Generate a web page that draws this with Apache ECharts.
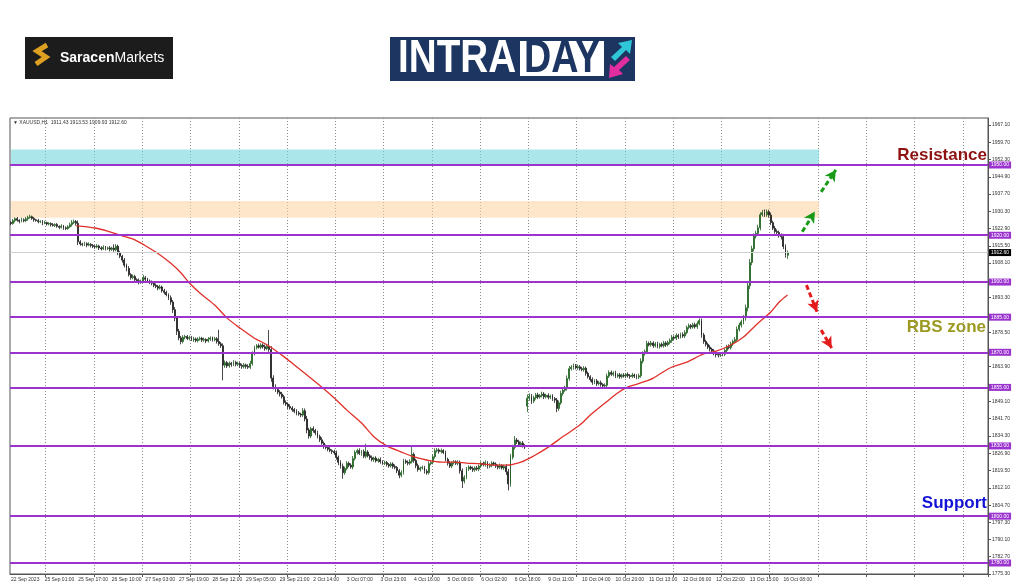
<!DOCTYPE html>
<html><head><meta charset="utf-8">
<script src="https://cdn.jsdelivr.net/npm/echarts@6/dist/echarts.min.js"></script>
<style>html,body{margin:0;padding:0;background:#fff;}#c{width:1024px;height:587px;}</style>
</head><body><div id="c"></div>
<script>
// ---------- DATA ----------
const tickLabels = ['22 Sep 2023','25 Sep 01:00','25 Sep 17:00','26 Sep 10:00','27 Sep 03:00','27 Sep 19:00','28 Sep 12:00','29 Sep 05:00','29 Sep 21:00','2 Oct 14:00','3 Oct 07:00','3 Oct 23:00','4 Oct 16:00','5 Oct 09:00','6 Oct 02:00','6 Oct 18:00','9 Oct 11:00','10 Oct 04:00','10 Oct 20:00','11 Oct 13:00','12 Oct 06:00','12 Oct 22:00','13 Oct 15:00','16 Oct 08:00'];
const yTickValues = [1967.10,1959.70,1952.30,1944.90,1937.70,1930.30,1922.90,1915.50,1908.10,1893.30,1878.50,1863.90,1849.10,1841.70,1834.30,1826.90,1819.50,1812.10,1804.70,1797.30,1790.10,1782.70,1775.30];
const levels = [1950,1920,1900,1885,1870,1855,1830,1800,1780];
const lastPrice = 1912.60;
const cyanZone = [1950, 1956.6];
const orangeZone = [1927.5, 1934.6];
const firstOpen = 1925.4;
const gapOpens = {246: 1847.0};
const slotCount = 466;
const categories = Array.from({length: slotCount}, (_, i) => String(i));

const closes = [
1925.0,1926.2,1927.1,1926.4,1926.0,1926.6,1926.2,1927.0,1927.6,1927.9,
1927.2,1926.6,1926.3,1925.8,1925.9,1925.2,1925.4,1924.8,1925.0,1924.5,
1924.2,1924.6,1923.8,1923.4,1923.9,1923.2,1922.9,1923.6,1924.5,1925.4,
1925.9,1925.1,1917.2,1916.3,1916.0,1916.4,1915.8,1916.1,1915.6,1915.2,
1915.0,1915.4,1914.6,1914.2,1914.8,1914.3,1914.6,1914.0,1914.5,1913.8,
1915.3,1912.5,1911.0,1909.4,1907.2,1905.8,1903.2,1901.9,1902.4,1901.0,
1900.6,1899.9,1900.3,1901.8,1901.2,1900.4,1899.8,1899.5,1898.6,1898.1,
1897.4,1897.9,1896.3,1895.6,1894.6,1893.3,1891.5,1888.2,1884.6,1879.0,
1876.2,1874.6,1876.4,1876.8,1875.9,1876.3,1875.4,1875.7,1875.0,1875.6,
1876.0,1875.2,1875.5,1874.8,1875.6,1876.1,1875.3,1875.8,1874.6,1873.6,
1872.8,1864.5,1865.6,1864.2,1865.3,1864.8,1865.7,1864.9,1865.2,1864.4,
1863.9,1864.6,1864.0,1863.6,1865.2,1869.4,1872.0,1872.8,1872.2,1873.1,
1872.4,1871.6,1872.5,1871.2,1859.0,1855.4,1854.1,1853.0,1852.2,1851.0,
1848.6,1847.9,1846.8,1846.2,1845.5,1844.8,1844.1,1843.6,1843.2,1845.0,
1841.5,1836.8,1834.2,1837.4,1836.6,1835.6,1834.0,1832.6,1831.2,1829.8,
1829.3,1828.6,1828.0,1827.6,1827.0,1825.2,1823.0,1821.3,1818.6,1820.4,
1822.6,1821.8,1821.0,1824.6,1827.2,1828.0,1826.8,1827.6,1825.6,1827.4,
1825.8,1825.0,1824.2,1824.8,1823.6,1824.2,1823.3,1822.6,1822.9,1822.1,
1821.5,1822.3,1821.2,1820.8,1819.4,1817.5,1818.6,1823.6,1823.0,1822.6,
1823.4,1826.4,1823.8,1821.6,1819.9,1820.6,1820.8,1819.2,1818.6,1822.4,
1823.0,1825.4,1827.9,1828.3,1827.6,1828.0,1827.2,1824.3,1822.6,1821.4,
1822.8,1823.2,1822.6,1823.0,1819.4,1815.0,1816.6,1820.2,1821.0,1820.4,
1819.8,1820.6,1820.1,1821.4,1822.6,1822.0,1822.9,1821.3,1821.8,1822.7,
1822.2,1821.4,1820.9,1821.6,1820.6,1821.2,1819.0,1813.8,1825.2,1829.4,
1832.5,1831.8,1830.6,1831.2,1830.0,1829.6,1850.4,1851.2,1849.2,1850.6,
1851.8,1850.9,1851.5,1852.2,1851.0,1851.6,1850.8,1851.3,1850.2,1849.6,
1846.0,1848.4,1852.4,1853.8,1854.6,1858.8,1863.0,1863.6,1864.2,1863.4,
1863.8,1863.0,1862.6,1863.2,1861.0,1859.6,1858.4,1857.2,1857.8,1856.6,
1857.0,1856.2,1855.6,1855.9,1859.8,1861.4,1860.6,1861.2,1859.8,1860.4,
1859.6,1860.2,1859.9,1860.6,1860.0,1859.7,1860.3,1859.8,1859.4,1860.0,
1866.2,1869.4,1870.3,1873.8,1873.2,1874.0,1872.8,1873.6,1872.5,1873.4,
1872.8,1874.0,1873.2,1874.2,1875.0,1876.4,1876.0,1877.2,1876.6,1877.6,
1877.0,1878.4,1880.6,1881.4,1880.8,1881.8,1880.9,1882.2,1883.6,1877.4,
1874.6,1873.4,1872.2,1871.4,1870.6,1869.6,1869.0,1868.8,1869.4,1869.2,
1870.8,1872.4,1872.0,1873.6,1874.6,1875.4,1879.8,1881.6,1883.0,1884.8,
1889.0,1898.4,1908.4,1914.2,1919.6,1920.8,1923.2,1928.8,1929.6,1928.8,
1930.0,1928.6,1925.4,1923.0,1921.6,1921.2,1919.8,1919.4,1915.2,1911.43,1912.60];

const wickUp = [
0.6,0.8,0.5,0.7,0.4,0.9,0.6,0.8,0.7,0.9,
0.5,0.6,0.4,0.7,0.5,0.6,0.8,0.4,0.6,0.5,
0.7,0.5,0.6,0.4,0.8,0.5,0.6,0.7,0.9,1.1,
0.8,0.6,1.2,0.7,0.5,0.8,0.6,0.9,0.5,0.7,
0.6,0.8,0.5,0.7,0.9,0.6,0.5,0.8,0.6,1.6,
0.9,0.7,0.8,0.6,0.9,0.7,1.0,0.6,0.8,0.7,
0.6,0.9,0.7,1.2,0.8,0.6,0.7,0.9,0.5,0.8,
0.7,0.9,0.6,0.8,0.7,0.6,1.0,0.8,1.1,0.9,
1.0,0.8,0.9,0.7,0.6,0.8,0.7,0.9,0.6,0.8,
0.7,0.6,0.8,0.5,0.9,0.7,0.6,0.8,0.7,5.0,
0.8,1.0,0.9,0.7,0.8,0.6,0.9,0.7,0.8,0.6,
0.7,0.8,0.6,0.9,1.2,1.0,0.8,0.7,0.9,0.8,
0.7,0.9,0.8,7.0,1.4,1.2,0.9,1.0,0.8,0.9,
0.8,0.9,0.7,1.0,0.8,0.7,0.9,0.8,0.6,1.2,
1.0,1.3,0.9,0.8,1.0,0.7,0.9,0.8,1.1,0.7,
0.8,0.7,0.9,0.6,0.8,1.0,0.7,0.9,1.2,0.8,
0.9,0.7,0.8,1.1,0.9,0.8,1.0,0.7,0.9,3.6,
0.8,0.7,0.9,0.6,0.8,0.7,0.9,0.6,0.8,0.7,
0.6,0.8,0.7,0.9,0.6,0.8,1.0,0.9,0.7,0.8,
0.9,4.0,0.8,0.7,0.9,0.6,0.8,0.7,0.9,1.0,
0.8,0.9,1.1,0.8,0.7,0.9,0.6,0.8,0.7,0.9,
0.6,0.8,0.7,0.9,0.8,1.0,0.9,0.8,0.7,0.6,
0.8,0.7,0.9,0.6,0.8,0.7,0.9,0.6,0.8,0.7,
0.6,0.8,0.7,0.9,0.6,0.8,1.0,1.2,1.4,1.1,
1.7,0.9,0.8,0.7,0.9,0.8,1.6,1.2,1.0,0.9,
0.8,0.9,0.7,1.0,0.8,0.7,0.9,0.6,0.8,0.7,
0.9,1.0,1.2,0.9,1.1,1.3,1.2,0.9,1.0,0.8,
0.9,0.7,0.8,0.9,0.7,0.8,0.6,0.9,0.7,0.8,
0.7,0.9,0.6,0.8,1.1,0.9,0.8,0.7,0.9,0.6,
0.8,0.7,0.9,0.6,0.8,0.7,0.9,0.6,0.8,0.9,
1.2,1.0,0.9,1.1,0.8,0.9,0.7,0.8,0.9,0.7,
0.8,0.9,0.7,0.8,0.9,1.0,0.8,0.9,0.7,0.8,
0.9,1.0,0.8,0.9,0.7,0.8,0.9,1.0,0.9,0.8,
0.9,0.8,0.7,0.9,0.6,0.8,0.7,0.9,0.6,0.8,
0.9,0.8,1.0,0.9,0.8,1.1,1.2,1.0,0.9,1.1,
1.4,1.6,1.5,1.3,1.2,1.1,1.3,1.0,1.2,1.4,
1.0,0.9,1.1,0.8,1.0,0.9,0.8,1.0,1.2,0.9,0.93];

const wickDown = [
0.7,0.5,0.8,0.6,0.9,0.5,0.7,0.6,0.8,0.5,
0.6,0.8,0.5,0.7,0.6,0.9,0.5,0.7,0.6,0.8,
0.5,0.7,0.6,0.8,0.5,0.9,0.7,0.6,0.5,0.8,
0.6,1.0,1.4,0.8,0.7,0.6,0.9,0.5,0.8,0.7,
0.8,0.6,0.9,0.7,0.5,0.8,0.6,0.9,0.7,0.8,
0.7,1.0,0.8,1.1,0.9,1.2,0.8,0.9,0.7,1.0,
0.8,0.9,0.7,0.6,0.9,0.8,0.7,0.9,0.8,0.7,
0.9,0.6,0.8,0.9,0.7,1.0,1.2,1.4,1.3,1.6,
1.1,1.2,0.8,0.9,0.7,0.8,0.6,0.9,0.7,0.8,
0.6,0.8,0.7,0.9,0.6,0.8,0.7,0.6,0.9,0.8,
0.9,6.5,1.1,0.9,0.8,1.0,0.7,0.9,0.8,1.0,
0.9,0.8,1.0,0.7,0.8,0.9,0.7,0.8,0.6,0.9,
0.8,0.9,0.7,1.0,1.6,1.2,1.0,0.9,1.1,0.8,
0.9,0.8,1.0,0.7,0.9,0.8,1.0,0.7,0.9,0.8,
1.0,1.4,1.1,0.8,0.9,1.0,0.8,0.9,0.7,1.0,
0.8,0.9,0.7,1.0,0.8,1.1,1.2,1.0,2.6,0.9,
0.8,0.9,0.7,1.0,0.8,0.9,0.7,1.0,0.8,0.9,
0.7,0.9,0.8,1.0,0.7,0.8,0.9,0.7,0.8,0.9,
0.8,0.7,0.9,0.8,1.0,1.3,0.9,0.8,0.7,0.9,
0.8,0.9,1.0,1.1,0.9,0.8,0.7,1.0,0.9,0.8,
0.7,0.9,0.8,0.7,0.9,0.8,0.7,0.9,1.0,0.8,
0.9,0.7,0.8,0.9,1.2,3.0,1.0,0.8,0.9,0.7,
0.9,0.8,0.7,0.9,0.8,0.7,0.9,1.0,0.8,0.9,
0.7,0.8,0.9,0.8,0.7,0.9,1.4,2.8,1.2,1.0,
0.9,1.0,0.8,0.9,0.7,0.9,2.5,1.1,1.3,0.9,
0.8,0.9,0.7,0.8,1.0,0.7,0.9,0.8,1.0,1.2,
1.6,1.0,0.8,0.9,0.7,1.0,0.9,0.8,1.0,0.7,
0.9,0.8,0.7,0.9,1.0,0.8,0.9,1.1,0.8,1.0,
0.8,0.9,1.1,1.2,0.9,0.8,0.7,0.9,0.8,0.7,
0.9,0.8,0.7,0.9,0.8,1.0,0.7,0.8,0.9,0.8,
0.9,1.0,0.8,0.9,0.7,0.8,0.9,0.7,0.8,0.9,
0.7,0.8,0.9,0.7,0.8,0.9,0.7,0.8,0.9,0.7,
0.8,0.9,0.7,0.8,0.9,0.7,0.8,0.9,0.7,1.2,
1.0,0.9,0.8,1.0,1.1,0.9,1.2,1.0,0.8,0.9,
0.8,0.9,0.7,0.8,0.9,0.7,0.8,0.9,1.0,1.1,
1.3,1.5,1.4,1.2,1.1,1.0,0.9,1.1,0.8,1.0,
0.9,1.1,1.0,0.8,0.9,1.0,0.8,1.2,1.1,1.0,1.5];

// moving average read at points: [bar index, value]
const maPoints = [[31,1924.0],[40,1923.1],[46,1921.8],[52,1920.0],[59,1918.0],[65,1915.0],[71,1911.6],[76,1908.1],[81,1903.9],[85,1899.6],[90,1895.3],[97,1890.2],[103,1884.6],[109,1880.4],[116,1876.0],[122,1873.2],[129,1868.8],[135,1864.6],[141,1860.3],[148,1855.2],[154,1850.5],[160,1845.3],[167,1839.8],[173,1833.8],[179,1830.0],[186,1827.4],[192,1825.3],[198,1824.0],[205,1823.1],[211,1823.1],[217,1822.7],[224,1822.3],[230,1821.8],[236,1821.8],[243,1823.1],[249,1825.7],[256,1829.5],[263,1834.0],[271,1838.9],[276,1843.2],[283,1848.3],[289,1852.6],[294,1855.2],[300,1856.9],[306,1859.0],[314,1863.3],[322,1865.8],[330,1869.3],[336,1870.5],[343,1873.1],[349,1876.5],[355,1881.7],[362,1887.2],[366,1891.5],[370,1894.5]];

const arrowsUp = [[[377,1921.5],[383,1930.1]], [[386,1938.5],[393,1947.9]]];
const arrowsDown = [[[379,1898.7],[384,1887.3]], [[386,1879.5],[391,1871.8]]];

// ---------- BUILD ----------
const candles = closes.map((c, i) => {
  const o = i === 0 ? firstOpen : (gapOpens[i] !== undefined ? gapOpens[i] : closes[i - 1]);
  const hi = Math.max(o, c) + wickUp[i];
  const lo = Math.min(o, c) - wickDown[i];
  return [o, c, +lo.toFixed(2), +hi.toFixed(2)];
});

const PURPLE = '#9b33cf';
const gridLineIdx = i => i >= 17 && (i - 17) % 23 === 0;
const F = '"Liberation Sans", Arial, sans-serif';
const LOGO_FONT = 'bold 46px "Liberation Sans", Arial, sans-serif';

const chart = echarts.init(document.getElementById('c'), null, {renderer: 'canvas'});
chart.setOption({
  animation: false,
  backgroundColor: '#ffffff',
  grid: {left: 10, right: 36, top: 118, bottom: 13, show: true, borderColor: '#555', borderWidth: 1, backgroundColor: 'transparent'},
  xAxis: {
    type: 'category', data: categories, boundaryGap: true,
    axisLine: {show: true, lineStyle: {color: '#555', width: 1}},
    axisTick: {show: true, interval: gridLineIdx, length: 3, lineStyle: {color: '#555'}},
    axisLabel: {
      interval: i => i % 16 === 0 && i / 16 < tickLabels.length,
      formatter: (v, i) => tickLabels[Math.round(i / 16)] || '',
      fontSize: 5, color: '#333', align: 'left', margin: 3, fontFamily: F
    },
    splitLine: {show: true, interval: gridLineIdx, lineStyle: {color: '#8a8a8a', type: [1, 2], width: 1}}
  },
  yAxis: {
    type: 'value', position: 'right', min: 1775.3, max: 1970.08, scale: true,
    axisLine: {show: true, lineStyle: {color: '#555', width: 1}},
    axisTick: {show: true, customValues: yTickValues, length: 3, lineStyle: {color: '#555'}},
    axisLabel: {customValues: yTickValues, formatter: v => v.toFixed(2), fontSize: 5, color: '#333', margin: 4, fontFamily: F},
    splitLine: {show: false}
  },
  series: [
    {
      type: 'line', data: [], z: 1, silent: true,
      markArea: {
        silent: true,
        data: [
          [{xAxis: 0, yAxis: cyanZone[0], itemStyle: {color: 'rgba(120,214,222,0.62)'}}, {xAxis: 385, yAxis: cyanZone[1]}],
          [{xAxis: 0, yAxis: orangeZone[0], itemStyle: {color: 'rgba(252,214,166,0.6)'}}, {xAxis: 385, yAxis: orangeZone[1]}]
        ]
      }
    },
    {
      type: 'candlestick', data: candles, z: 3, barWidth: 1.4, silent: true,
      itemStyle: {color: '#22a022', color0: '#1c1c1c', borderColor: '#1f5a1f', borderColor0: '#1c1c1c', borderWidth: 0.8},
      markLine: {
        silent: true, symbol: 'none', animation: false,
        data: levels.map(v => ({
          yAxis: v,
          lineStyle: {color: PURPLE, width: 2, type: 'solid'},
          label: {show: true, position: 'end', formatter: v.toFixed(2), backgroundColor: PURPLE, color: '#fff', fontSize: 5, padding: [1, 2], distance: 1, fontFamily: F}
        })).concat([{
          yAxis: lastPrice,
          lineStyle: {color: '#cfcfcf', width: 1, type: 'solid'},
          label: {show: true, position: 'end', formatter: lastPrice.toFixed(2), backgroundColor: '#000', color: '#fff', fontSize: 5, padding: [1, 2], distance: 1, fontFamily: F}
        }])
      }
    },
    {
      type: 'line', data: maPoints, z: 4, smooth: 0.3, symbol: 'none', silent: true,
      lineStyle: {color: '#e0302a', width: 1.3}
    },
    {
      type: 'line', data: [], z: 5, silent: true,
      markLine: {
        silent: true, symbol: ['none', 'arrow'], symbolSize: [9, 11],
        lineStyle: {color: '#189a18', width: 3, type: [5, 3]},
        label: {show: false},
        data: arrowsUp.map(a => [{coord: a[0]}, {coord: a[1]}])
      }
    },
    {
      type: 'line', data: [], z: 5, silent: true,
      markLine: {
        silent: true, symbol: ['none', 'arrow'], symbolSize: [9, 11],
        lineStyle: {color: '#e51a1a', width: 3, type: [5, 3]},
        label: {show: false},
        data: arrowsDown.map(a => [{coord: a[0]}, {coord: a[1]}])
      }
    }
  ],
  graphic: [
    // header inside chart
    {type: 'text', x: 13, y: 123, silent: true, style: {text: '\u25BC XAUUSD,H1  1911.43 1913.53 1909.93 1912.60', font: '5px ' + F, fill: '#333', textVerticalAlign: 'middle'}},
    // annotations
    {type: 'text', x: 987, y: 155, silent: true, style: {text: 'Resistance', font: 'bold 17px "Liberation Sans", Arial, sans-serif', fill: '#8e1212', textAlign: 'right', textVerticalAlign: 'middle'}},
    {type: 'text', x: 986, y: 327, silent: true, style: {text: 'RBS zone', font: 'bold 17px "Liberation Sans", Arial, sans-serif', fill: '#9c9a22', textAlign: 'right', textVerticalAlign: 'middle'}},
    {type: 'text', x: 987, y: 503, silent: true, style: {text: 'Support', font: 'bold 17px "Liberation Sans", Arial, sans-serif', fill: '#1414d6', textAlign: 'right', textVerticalAlign: 'middle'}},
    // Saracen Markets logo
    {type: 'rect', silent: true, shape: {x: 25, y: 37, width: 148, height: 42}, style: {fill: '#1c1c1c'}},
    {type: 'polyline', silent: true, shape: {points: [[47, 45], [37, 51], [46, 57], [36, 64]]}, style: {stroke: '#dea021', lineWidth: 5, fill: null}},
    {type: 'text', x: 60, y: 58, silent: true, style: {text: 'Saracen', font: 'bold 14px "Liberation Sans", Arial, sans-serif', fill: '#fff', textVerticalAlign: 'middle'}},
    {type: 'text', x: 114.5, y: 58, silent: true, style: {text: 'Markets', font: '14px "Liberation Sans", Arial, sans-serif', fill: '#fff', textVerticalAlign: 'middle'}},
    // INTRADAY logo
    {type: 'rect', silent: true, shape: {x: 390, y: 37, width: 245, height: 44}, style: {fill: '#1d3561'}},
    {type: 'text', x: 398, y: 59, scaleX: 0.84, silent: true, style: {text: 'INTRA', font: LOGO_FONT, fill: '#fff', textVerticalAlign: 'middle'}},
    {type: 'rect', silent: true, shape: {x: 520, y: 41, width: 84, height: 35}, style: {fill: '#fff'}},
    {type: 'text', x: 562, y: 59, scaleX: 0.82, silent: true, style: {text: 'DAY', font: LOGO_FONT, fill: '#1d3561', textAlign: 'center', textVerticalAlign: 'middle'}},
    {type: 'polygon', silent: true, shape: {points: [[611, 57], [622, 47], [618, 43], [632, 40], [630, 54], [626, 50], [615, 61]]}, style: {fill: '#2ec6d8'}},
    {type: 'polygon', silent: true, shape: {points: [[630, 60], [619, 70], [623, 74], [609, 78], [610, 64], [614, 67], [626, 56]]}, style: {fill: '#e22da0'}}
  ]
});
</script>
</body></html>
